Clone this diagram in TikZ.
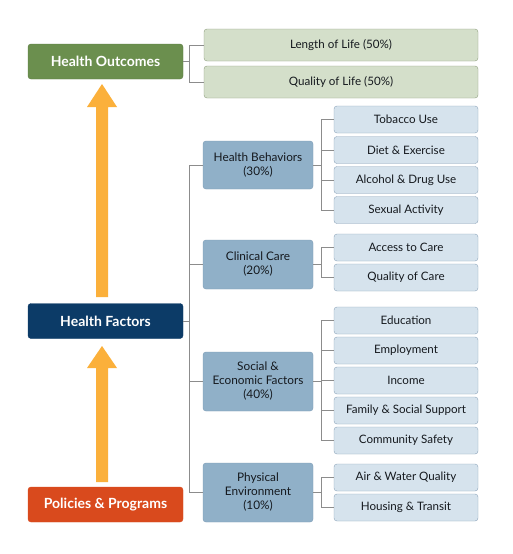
\documentclass[tikz,border=0pt]{standalone}
\usepackage{fontspec}
\setmainfont{Lato}
\definecolor{hogreen}{HTML}{6B8F4E}
\definecolor{hogreenb}{HTML}{5A7A40}
\definecolor{lgreen}{HTML}{D4DFCA}
\definecolor{lgreenb}{HTML}{8E9E7E}
\definecolor{navy}{HTML}{0C3B67}
\definecolor{pored}{HTML}{D94A1D}
\definecolor{midblue}{HTML}{90B0C8}
\definecolor{midblueb}{HTML}{7B9BB5}
\definecolor{lblue}{HTML}{D6E3ED}
\definecolor{lblueb}{HTML}{8DA4BA}
\definecolor{arrowc}{HTML}{FBB03B}
\definecolor{connc}{HTML}{8C8C8C}
\definecolor{txt}{HTML}{15191E}
\begin{document}
\begin{tikzpicture}[x=1pt,y=-1pt,
  mainbox/.style={rounded corners=3pt, minimum width=155pt, minimum height=35pt, inner sep=0pt,
     text=white, font=\fontsize{14}{16}\selectfont\bfseries},
  topbox/.style={draw=lgreenb, fill=lgreen, rounded corners=3pt, minimum width=274pt, minimum height=32pt,
     inner sep=0pt, text=txt, font=\fontsize{11.6}{13}\selectfont},
  midbox/.style={draw=midblueb, fill=midblue, rounded corners=3pt, minimum width=110pt, inner sep=0pt,
     align=center, text=txt, font=\fontsize{11.8}{14}\selectfont},
  leafbox/.style={draw=lblueb, fill=lblue, rounded corners=3pt, minimum width=144pt, minimum height=27pt,
     inner sep=0pt, text=txt, font=\fontsize{11.6}{13}\selectfont},
  conn/.style={draw=connc, line width=0.8pt}]
\useasboundingbox (0,0) rectangle (512,554);
\fill[white] (0,0) rectangle (512,554);

% arrows
\fill[arrowc] (96,297) -- (96,107) -- (87,107) -- (102,84) -- (117,107) -- (108,107) -- (108,297) -- cycle;
\fill[arrowc] (96,482) -- (96,368) -- (87,368) -- (102,346) -- (117,368) -- (108,368) -- (108,482) -- cycle;

% main boxes
\node[mainbox, fill=hogreen, draw=hogreenb] (ho) at (105.5,61.5) {Health Outcomes};
\node[mainbox, fill=navy, draw=navy] (hf) at (105.5,321) {Health Factors};
\node[mainbox, fill=pored, draw=pored] (pp) at (105.5,504.5) {Policies \& Programs};

% outcomes
\node[topbox] (len) at (341,45) {Length of Life (50\%)};
\node[topbox] (qol) at (341,82) {Quality of Life (50\%)};

% middle
\node[midbox, minimum height=48pt] (hb) at (258,165) {Health Behaviors\\(30\%)};
\node[midbox, minimum height=49pt] (cc) at (258,264.5) {Clinical Care\\(20\%)};
\node[midbox, minimum height=59pt] (se) at (258,381.5) {Social \&\\Economic Factors\\(40\%)};
\node[midbox, minimum height=59pt] (pe) at (258,492.5) {Physical\\Environment\\(10\%)};

% leaves
\node[leafbox] (tob) at (406,119.5) {Tobacco Use};
\node[leafbox] (die) at (406,150) {Diet \& Exercise};
\node[leafbox] (alc) at (406,180) {Alcohol \& Drug Use};
\node[leafbox] (sex) at (406,210) {Sexual Activity};
\node[leafbox] (acc) at (406,247.5) {Access to Care};
\node[leafbox] (qoc) at (406,277.5) {Quality of Care};
\node[leafbox] (edu) at (406,320.5) {Education};
\node[leafbox] (emp) at (406,350.5) {Employment};
\node[leafbox] (inc) at (406,380.5) {Income};
\node[leafbox] (fam) at (406,410.5) {Family \& Social Support};
\node[leafbox] (com) at (406,440.5) {Community Safety};
\node[leafbox] (air) at (406,477.5) {Air \& Water Quality};
\node[leafbox] (hou) at (406,507.5) {Housing \& Transit};

% connectors outcomes
\draw[conn] (ho.east) -- ++(7,0);
\draw[conn] (len.west) -- ++(-14,0) |- (qol.west);

% connectors factors trunk
\draw[conn] (hf.east) -- ++(7,0);
\draw[conn] (hb.west) -- ++(-13,0) |- (pe.west);
\draw[conn] (cc.west) -- ++(-13,0);
\draw[conn] (se.west) -- ++(-13,0);

% sub trees
\draw[conn] (hb.east) -- ++(9,0);
\draw[conn] (tob.west) -- ++(-12,0) |- (sex.west);
\draw[conn] (die.west) -- ++(-12,0);
\draw[conn] (alc.west) -- ++(-12,0);

\draw[conn] (cc.east) -- ++(9,0);
\draw[conn] (acc.west) -- ++(-12,0) |- (qoc.west);

\draw[conn] (se.east) -- ++(9,0);
\draw[conn] (edu.west) -- ++(-12,0) |- (com.west);
\draw[conn] (emp.west) -- ++(-12,0);
\draw[conn] (inc.west) -- ++(-12,0);
\draw[conn] (fam.west) -- ++(-12,0);

\draw[conn] (pe.east) -- ++(9,0);
\draw[conn] (air.west) -- ++(-12,0) |- (hou.west);
\end{tikzpicture}
\end{document}
